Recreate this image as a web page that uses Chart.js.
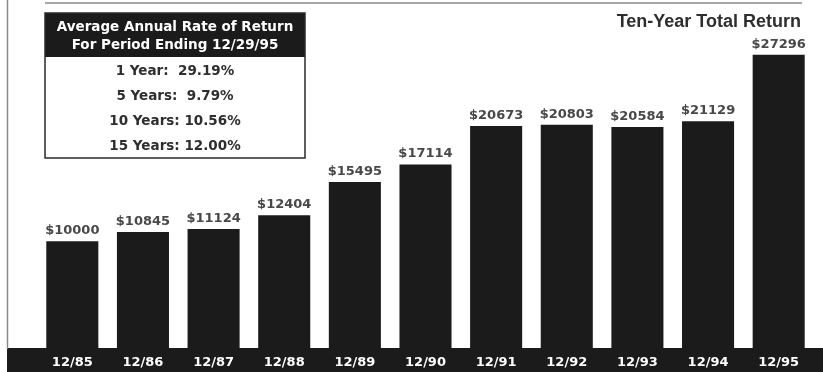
<!DOCTYPE html>
<html>
<head>
<meta charset="utf-8">
<script src="https://cdn.jsdelivr.net/npm/chart.js@4/dist/chart.umd.min.js"></script>
<style>
  html, body { margin: 0; padding: 0; background: #ffffff; }
  #chart { display: block; }
</style>
</head>
<body>
<canvas id="chart" width="823" height="372"></canvas>
<script>
const periods = ['12/85', '12/86', '12/87', '12/88', '12/89', '12/90', '12/91', '12/92', '12/93', '12/94', '12/95'];
const totalValues = [10000, 10845, 11124, 12404, 15495, 17114, 20673, 20803, 20584, 21129, 27296];

const chartTitle = 'Ten-Year Total Return';
const boxHeader = ['Average Annual Rate of Return', 'For Period Ending 12/29/95'];
const boxRows = ['1 Year:  29.19%', '5 Years:  9.79%', '10 Years: 10.56%', '15 Years: 12.00%'];

const ink = '#1b1b1b';
const textGray = '#2e2e2e';

const decorPlugin = {
    id: 'decor',
    beforeDraw(chart) {
        const ctx = chart.ctx;
        const area = chart.chartArea;
        ctx.save();
        ctx.fillStyle = '#ffffff';
        ctx.fillRect(0, 0, chart.width, chart.height);

        // black band holding the period labels
        ctx.fillStyle = ink;
        ctx.fillRect(7, area.bottom - 1, chart.width - 7, chart.height - area.bottom + 1);

        // frame lines
        ctx.strokeStyle = '#8a8a8a';
        ctx.lineWidth = 1.5;
        ctx.beginPath();
        ctx.moveTo(7.5, 0);
        ctx.lineTo(7.5, area.bottom);
        ctx.moveTo(45, 3);
        ctx.lineTo(802, 3);
        ctx.stroke();
        ctx.restore();
    },
    afterDatasetsDraw(chart) {
        const ctx = chart.ctx;
        const meta = chart.getDatasetMeta(0);
        ctx.save();
        ctx.font = 'bold 13px "DejaVu Sans"';
        ctx.fillStyle = '#484848';
        ctx.textAlign = 'center';
        ctx.textBaseline = 'alphabetic';
        meta.data.forEach((bar, i) => {
            ctx.fillText('$' + totalValues[i], bar.x, bar.y - 7);
        });
        ctx.restore();
    },
    afterDraw(chart) {
        const ctx = chart.ctx;
        ctx.save();

        // title
        ctx.font = 'bold 18px "Liberation Sans"';
        ctx.fillStyle = textGray;
        ctx.textAlign = 'right';
        ctx.fillText(chartTitle, 801, 27);

        // inset box
        const bx = 45, by = 13, bw = 260, hh = 44, bh = 145;
        ctx.fillStyle = '#ffffff';
        ctx.fillRect(bx, by, bw, bh);
        ctx.fillStyle = ink;
        ctx.fillRect(bx, by, bw, hh);
        ctx.strokeStyle = '#2a2a2a';
        ctx.lineWidth = 1.5;
        ctx.strokeRect(bx, by, bw, bh);

        ctx.textAlign = 'center';
        ctx.font = 'bold 13.5px "DejaVu Sans"';
        ctx.fillStyle = '#ffffff';
        ctx.fillText(boxHeader[0], bx + bw / 2, 31);
        ctx.fillText(boxHeader[1], bx + bw / 2, 49);

        ctx.font = 'bold 13.5px "DejaVu Sans"';
        ctx.fillStyle = textGray;
        boxRows.forEach((row, i) => {
            ctx.fillText(row, bx + bw / 2, 75 + i * 25);
        });
        ctx.restore();
    }
};

new Chart(document.getElementById('chart').getContext('2d'), {
    type: 'bar',
    data: {
        labels: periods,
        datasets: [{
            data: totalValues,
            backgroundColor: ink,
            borderWidth: 0,
            barPercentage: 0.737,
            categoryPercentage: 1
        }]
    },
    options: {
        responsive: false,
        animation: false,
        layout: { padding: { left: 37, right: 9, top: 4, bottom: 0 } },
        plugins: {
            legend: { display: false },
            tooltip: { enabled: false }
        },
        scales: {
            x: {
                grid: { display: false, drawTicks: false },
                border: { display: false },
                ticks: {
                    color: '#ffffff',
                    font: { family: 'DejaVu Sans', weight: 'bold', size: 13 },
                    padding: 6,
                    maxRotation: 0,
                    autoSkip: false
                },
                afterFit(scale) { scale.height = 23; }
            },
            y: {
                display: false,
                min: 0,
                max: 32000
            }
        }
    },
    plugins: [decorPlugin]
});
</script>
</body>
</html>
